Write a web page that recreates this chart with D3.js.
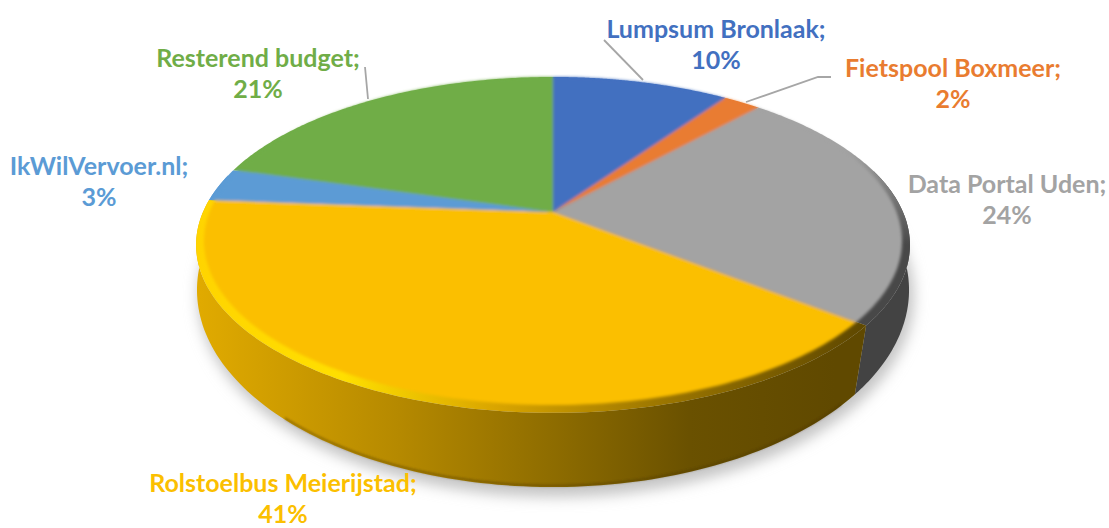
<!DOCTYPE html>
<html>
<head>
<meta charset="utf-8">
<script src="https://cdn.jsdelivr.net/npm/d3@7"></script>
<style>
  html, body { margin: 0; padding: 0; background: #fff; }
  text { font-family: Lato, sans-serif; font-weight: 700; font-size: 25px; text-anchor: middle; }
</style>
</head>
<body>
<script>
var w = 1109;
var h = 528;

// Data, clockwise from 12 o'clock
var categories = ["Lumpsum Bronlaak", "Fietspool Boxmeer", "Data Portal Uden", "Rolstoelbus Meierijstad", "IkWilVervoer.nl", "Resterend budget"];
var values = [9.7, 2.05, 23.85, 40.6, 3.2, 20.6];
var percentLabels = ["10%", "2%", "24%", "41%", "3%", "21%"];
var colors = ["#4270C0", "#E97C30", "#A3A3A3", "#FBBF00", "#5B9BD5", "#70AD47"];

// Label centres and leader lines
var labelPos = [[716, 38], [953, 77], [1007, 193], [283, 492], [99, 175], [258, 67]];
var leaders = [
  [[604, 40], [643, 80]],
  [[746, 102], [818, 77], [831, 77]],
  [],
  [],
  [],
  [[365, 67], [368, 99]]
];

var svg = d3.select("body")
  .append("svg")
  .attr("width", w)
  .attr("height", h)
  .style("display", "block");

var defs = svg.append("defs");

function blur(id, dev) {
  defs.append("filter")
    .attr("id", id)
    .attr("x", "-10%").attr("y", "-10%")
    .attr("width", "120%").attr("height", "120%")
    .append("feGaussianBlur").attr("stdDeviation", dev);
}
blur("soft", 1.6);
blur("shadow", 7);
blur("lip", 1);

function gradient(id, x1, y1, x2, y2, stops) {
  var g = defs.append("linearGradient")
    .attr("id", id)
    .attr("gradientUnits", "userSpaceOnUse")
    .attr("x1", x1).attr("y1", y1)
    .attr("x2", x2).attr("y2", y2);
  stops.forEach(function(s) {
    g.append("stop").attr("offset", s[0]).attr("stop-color", s[1]);
  });
}
gradient("sideYellow", 200, 0, 835, 0, [[0, "#e0aa00"], [0.315, "#b58900"], [0.55, "#8f6d00"], [0.77, "#6a5100"], [1, "#604900"]]);
gradient("rimYellow", 197, 0, 860, 0, [[0, "#ffd400"], [0.22, "#ffdf00"], [0.45, "#d9a500"], [0.7, "#9c7600"], [1, "#604900"]]);
gradient("rimGray", 0, 150, 0, 245, [[0, "#a3a3a3"], [1, "#484848"]]);

// A tilted disc: unit circle seen in perspective
function disc(cy, ky, ay, bx) {
  return function(angle) {
    var u = Math.sin(angle), v = -Math.cos(angle);
    var d = 1 + ky * v;
    return [553 + bx * u / d, cy + ay * v / d];
  };
}
var outerTop = disc(212, -0.196, 161.5, 350);
var innerTop = disc(212, -0.1768, 158.9, 343.5);
var bottom = disc(264.4, -0.13, 193.7, 353);
var bottomLip = disc(262.9, -0.13, 193.7, 353);

var pie = d3.pie().sort(null).value(function(d) { return d; });
var arcs = pie(values);
var line = d3.line();

// Points along an angle range, sampled finely
function sweep(map, a0, a1) {
  return d3.range(0, 121).map(function(i) {
    return map(a0 + (a1 - a0) * i / 120);
  });
}
function wedge(map, apexY, d) {
  return line([[553, apexY]].concat(sweep(map, d.startAngle, d.endAngle))) + "Z";
}
// Only the part of a slice facing the viewer gets a side wall
function wall(d) {
  var a0 = Math.max(d.startAngle, 1.3), a1 = Math.min(d.endAngle, 4.95);
  if (a1 <= a0) return null;
  return line(sweep(outerTop, a0, a1).concat(sweep(bottom, a1, a0))) + "Z";
}

// Drop shadow under the disc
svg.append("ellipse")
  .attr("cx", 556).attr("cy", 296)
  .attr("rx", 358).attr("ry", 201)
  .attr("fill", "#c4c4c4")
  .attr("filter", "url(#shadow)");

// Side walls
svg.append("g").selectAll("path")
  .data(arcs.filter(function(d) { return wall(d) !== null; }))
  .enter()
  .append("path")
  .attr("d", wall)
  .attr("fill", function(d) {
    return d.index === 3 ? "url(#sideYellow)" : d.index === 2 ? "#434343" : colors[d.index];
  });

// Dark lip along the bottom of the front wall
svg.append("path")
  .attr("d", line(sweep(bottomLip, 2.3, 3.9)))
  .attr("fill", "none")
  .attr("stroke", "#4a3800")
  .attr("stroke-opacity", 0.45)
  .attr("stroke-width", 2)
  .attr("filter", "url(#lip)");

// Bevel rim, the full slice on the outer ellipse
svg.append("g").selectAll("path")
  .data(arcs)
  .enter()
  .append("path")
  .attr("d", function(d) { return wedge(outerTop, 212, d); })
  .attr("fill", function(d) {
    return d.index === 3 ? "url(#rimYellow)" : d.index === 2 ? "url(#rimGray)" : colors[d.index];
  });

// Flat top face, slightly soft so the bevel fades
svg.append("g")
  .attr("filter", "url(#soft)")
  .selectAll("path")
  .data(arcs)
  .enter()
  .append("path")
  .attr("d", function(d) { return wedge(innerTop, 212, d); })
  .attr("fill", function(d) { return colors[d.index]; });

// Leader lines
svg.append("g").selectAll("path")
  .data(leaders.filter(function(d) { return d.length > 0; }))
  .enter()
  .append("path")
  .attr("d", function(d) { return line(d); })
  .attr("fill", "none")
  .attr("stroke", "#a6a6a6")
  .attr("stroke-width", 1.8);

// Labels
var labels = svg.append("g").selectAll("text")
  .data(categories)
  .enter()
  .append("text")
  .attr("x", function(d, i) { return labelPos[i][0]; })
  .attr("y", function(d, i) { return labelPos[i][1]; })
  .attr("fill", function(d, i) { return colors[i]; });

labels.append("tspan").text(function(d) { return d + ";"; });
labels.append("tspan")
  .attr("x", function(d, i) { return labelPos[i][0]; })
  .attr("dy", 31)
  .text(function(d, i) { return percentLabels[i]; });
</script>
</body>
</html>
